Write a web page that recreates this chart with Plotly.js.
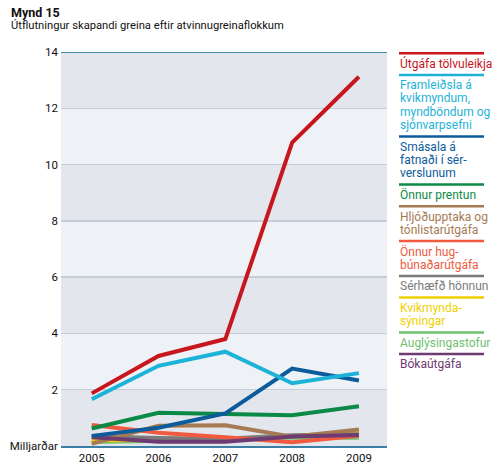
<!DOCTYPE html>
<html>
<head>
<meta charset="utf-8">
<script src="https://cdn.plot.ly/plotly-3.0.1.min.js"></script>
<style>html,body{margin:0;padding:0;background:#fff;}#chart{width:500px;height:469px;}</style>
</head>
<body>
<div id="chart"></div>
<script>
// ---- data ----
const years = [2005, 2006, 2007, 2008, 2009];
const seriesNames = [
  ["Útgáfa tölvuleikja"],
  ["Framleiðsla á", "kvikmyndum,", "myndböndum og", "sjónvarpsefni"],
  ["Smásala á", "fatnaði í sér-", "verslunum"],
  ["Önnur prentun"],
  ["Hljóðupptaka og", "tónlistarútgáfa"],
  ["Önnur hug-", "búnaðarútgáfa"],
  ["Sérhæfð hönnun"],
  ["Kvikmynda-", "sýningar"],
  ["Auglýsingastofur"],
  ["Bókaútgáfa"]
];
const tolvuleikir   = [1.87, 3.20, 3.80, 10.78, 13.12];
const kvikmyndir    = [1.66, 2.85, 3.35, 2.23, 2.59];
const smasala       = [0.36, 0.65, 1.16, 2.75, 2.33];
const prentun       = [0.62, 1.18, 1.14, 1.09, 1.41];
const hljodupptaka  = [0.08, 0.72, 0.74, 0.33, 0.59];
const hugbunadur    = [0.75, 0.47, 0.31, 0.13, 0.36];
const honnun        = [0.35, 0.28, 0.26, 0.38, 0.42];
const syningar      = [0.20, 0.20, 0.25, 0.35, 0.48];
const auglysingar   = [0.14, 0.18, 0.22, 0.30, 0.29];
const bokautgafa    = [0.31, 0.15, 0.15, 0.34, 0.39];
const allValues = [tolvuleikir, kvikmyndir, smasala, prentun, hljodupptaka, hugbunadur, honnun, syningar, auglysingar, bokautgafa];
const yTickVals = [0, 2, 4, 6, 8, 10, 12, 14];
const yTickText = ["Milljarðar", "2", "4", "6", "8", "10", "12", "14"];
const titleMain = "Mynd 15";
const titleSub = "Útflutningur skapandi greina eftir atvinnugreinaflokkum";

// ---- style ----
const colors = ["#c8161e", "#1db3d8", "#0c5b9b", "#0b8a47", "#a67a52", "#f15a3f", "#7b7b7b", "#f0cf00", "#6fc170", "#6e3b72"];
const W = 500, H = 469;
const M = {l: 61, r: 113, t: 52, b: 23};
const PW = W - M.l - M.r, PH = H - M.t - M.b;
const px = x => (x - M.l) / PW;
const py = y => 1 - (y - M.t) / PH;
const FONT = "Roboto, 'DejaVu Sans', sans-serif";

// draw order: small first, big on top
const order = [8, 7, 6, 5, 4, 9, 3, 2, 1, 0];
const traces = order.map(i => ({
  x: years, y: allValues[i], type: "scatter", mode: "lines",
  line: {color: colors[i], width: 4},
  name: seriesNames[i].join(" "), showlegend: false, hoverinfo: "skip"
}));

const shapes = [];
// alternating bands
for (let k = 0; k < yTickVals.length - 1; k += 2) {
  shapes.push({type: "rect", xref: "paper", yref: "y", x0: 0, x1: 1, y0: yTickVals[k], y1: yTickVals[k + 1],
    fillcolor: "#e3e7ed", line: {width: 0}, layer: "below"});
}
// top line
shapes.push({type: "line", xref: "paper", yref: "y", x0: 0, x1: 1, y0: 14, y1: 14, line: {color: "#4c87a6", width: 2}});

const annotations = [];
annotations.push({xref: "paper", yref: "paper", x: px(9), y: py(13), xanchor: "left", yanchor: "middle",
  text: "<b>" + titleMain + "</b>", showarrow: false, font: {family: FONT, size: 12.5, color: "#111"}});
annotations.push({xref: "paper", yref: "paper", x: px(9), y: py(26), xanchor: "left", yanchor: "middle",
  text: titleSub, showarrow: false, font: {family: FONT, size: 11.2, color: "#111"}});

// custom legend
let cy = 53.3;
seriesNames.forEach((lines, i) => {
  shapes.push({type: "line", xref: "paper", yref: "paper", x0: px(399), x1: px(484), y0: py(cy), y1: py(cy),
    line: {color: colors[i], width: 2.5}});
  let ty = cy + 10.3;
  lines.forEach((t, j) => {
    annotations.push({xref: "paper", yref: "paper", x: px(398), y: py(ty), xanchor: "left", yanchor: "middle",
      text: t, showarrow: false, font: {family: FONT, size: 12, color: colors[i]}});
    if (j < lines.length - 1) ty += 13.3;
  });
  cy = ty + 11.3;
});

const layout = {
  width: W, height: H,
  margin: M,
  paper_bgcolor: "#ffffff",
  plot_bgcolor: "#eef1f5",
  showlegend: false,
  xaxis: {
    range: [2004.54, 2009.42], tickvals: years, ticktext: years.map(String),
    showgrid: false, zeroline: false, showline: true, linecolor: "#3b7ea6", linewidth: 2,
    ticks: "", tickfont: {family: FONT, size: 11.5, color: "#111"}, fixedrange: true
  },
  yaxis: {
    range: [0, 14], tickvals: yTickVals, ticktext: yTickText,
    showgrid: true, gridcolor: "#c3ced8", gridwidth: 1.5, zeroline: false, showline: false,
    ticks: "", tickfont: {family: FONT, size: 11.5, color: "#111"}, ticklabelstandoff: 2, fixedrange: true
  },
  shapes: shapes,
  annotations: annotations
};

Plotly.newPlot("chart", traces, layout, {staticPlot: true, displayModeBar: false});
</script>
</body>
</html>
